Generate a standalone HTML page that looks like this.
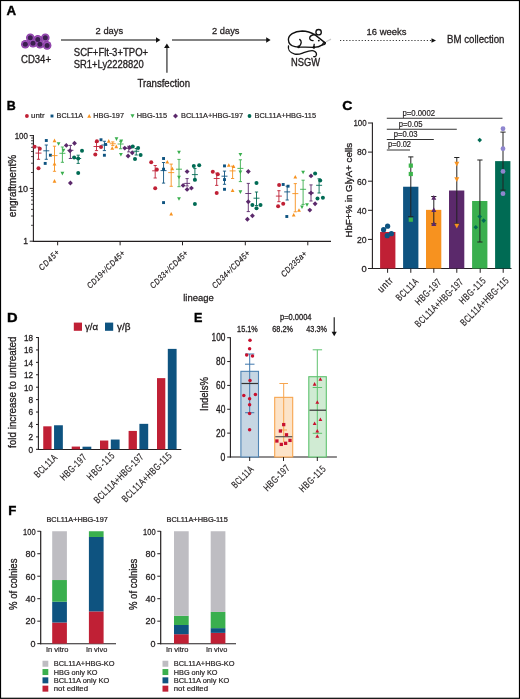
<!DOCTYPE html>
<html><head><meta charset="utf-8"><style>
html,body{margin:0;padding:0;background:#fff;}
#fig{position:relative;width:520px;height:699px;overflow:hidden;background:#fff;}
svg{position:absolute;left:0;top:0;will-change:transform;}
text{font-family:"Liberation Sans", sans-serif;}
</style></head><body><div id="fig">
<svg width="520" height="699" viewBox="0 0 520 699">
<rect x="0" y="0" width="520" height="699" fill="#fff"/>
<text x="6.60" y="14.80" font-size="12" fill="#000" stroke="#000" stroke-width="0.35" font-weight="bold" textLength="9.6" lengthAdjust="spacingAndGlyphs">A</text>
<circle cx="30.30" cy="37.70" r="4.30" fill="#8a3ca4"/>
<circle cx="37.80" cy="39.40" r="4.30" fill="#8a3ca4"/>
<circle cx="45.30" cy="37.70" r="4.30" fill="#8a3ca4"/>
<circle cx="25.30" cy="44.20" r="4.30" fill="#8a3ca4"/>
<circle cx="33.00" cy="43.20" r="4.30" fill="#8a3ca4"/>
<circle cx="39.90" cy="44.20" r="4.30" fill="#8a3ca4"/>
<circle cx="47.10" cy="45.40" r="4.30" fill="#8a3ca4"/>
<circle cx="30.30" cy="37.70" r="3.40" fill="#9c52b9"/>
<circle cx="37.80" cy="39.40" r="3.40" fill="#9c52b9"/>
<circle cx="45.30" cy="37.70" r="3.40" fill="#9c52b9"/>
<circle cx="25.30" cy="44.20" r="3.40" fill="#9c52b9"/>
<circle cx="33.00" cy="43.20" r="3.40" fill="#9c52b9"/>
<circle cx="39.90" cy="44.20" r="3.40" fill="#9c52b9"/>
<circle cx="47.10" cy="45.40" r="3.40" fill="#9c52b9"/>
<circle cx="30.30" cy="37.70" r="2.50" fill="#3b1f4f"/>
<circle cx="37.80" cy="39.40" r="2.50" fill="#3b1f4f"/>
<circle cx="45.30" cy="37.70" r="2.50" fill="#3b1f4f"/>
<circle cx="25.30" cy="44.20" r="2.50" fill="#3b1f4f"/>
<circle cx="33.00" cy="43.20" r="2.50" fill="#3b1f4f"/>
<circle cx="39.90" cy="44.20" r="2.50" fill="#3b1f4f"/>
<circle cx="47.10" cy="45.40" r="2.50" fill="#3b1f4f"/>
<text x="21.00" y="62.50" font-size="10" fill="#231f20" stroke="#231f20" stroke-width="0.32" textLength="30" lengthAdjust="spacingAndGlyphs">CD34+</text>
<line x1="61.00" y1="40.00" x2="157.00" y2="40.00" stroke="#5a5a5a" stroke-width="1.6" />
<polygon points="156.00,37.30 160.40,40.00 156.00,42.70" fill="#111"/>
<text x="95.60" y="33.80" font-size="9.2" fill="#231f20" stroke="#231f20" stroke-width="0.26" textLength="27.5" lengthAdjust="spacingAndGlyphs">2 days</text>
<text x="73.80" y="55.80" font-size="10.4" fill="#231f20" stroke="#231f20" stroke-width="0.32" textLength="74.3" lengthAdjust="spacingAndGlyphs">SCF+Flt-3+TPO+</text>
<text x="73.80" y="67.90" font-size="10.4" fill="#231f20" stroke="#231f20" stroke-width="0.32" textLength="69.9" lengthAdjust="spacingAndGlyphs">SR1+Ly2228820</text>
<line x1="166.90" y1="72.70" x2="166.90" y2="47.00" stroke="#6a6a6a" stroke-width="1.7" />
<polygon points="164.10,47.90 166.90,43.60 169.70,47.90" fill="#111"/>
<text x="137.50" y="87.00" font-size="10" fill="#231f20" stroke="#231f20" stroke-width="0.32" textLength="52.5" lengthAdjust="spacingAndGlyphs">Transfection</text>
<line x1="172.00" y1="40.00" x2="267.00" y2="40.00" stroke="#5a5a5a" stroke-width="1.6" />
<polygon points="266.20,37.30 270.60,40.00 266.20,42.70" fill="#111"/>
<text x="212.00" y="33.80" font-size="9.2" fill="#231f20" stroke="#231f20" stroke-width="0.26" textLength="27.5" lengthAdjust="spacingAndGlyphs">2 days</text>
<g fill="none" stroke="#111" stroke-width="1.35" stroke-linecap="round" stroke-linejoin="round">
<path d="M315.4,35.1 C311,32.5 306,31 302.3,31 C294,31.2 288.3,35 288.4,39.7 C288.5,43.2 291,45.8 295,46.6 C300,47.6 307,46.8 313.7,47.4 C317.5,47.4 320.5,46.2 322.3,44.9"/>
<path d="M315.4,35.1 L325.2,42.9"/>
<path d="M322.3,44.9 C322.8,43.2 324,42.3 325.3,42.6 C325.6,43.8 324.5,45 322.3,44.9"/>
<circle cx="318.6" cy="32.2" r="2.7"/>
<path d="M314.8,34.5 C311.5,34.8 309.3,36.5 309.7,38.4 C310.1,40 311.6,40.7 313.1,40.6"/>
<path d="M299.7,39.4 C301.8,41 302,43.8 298.6,46.9"/>
<path d="M314.2,44.3 L313.7,47.4"/>
<path d="M288.5,46 C287.8,49 289.5,52.6 294.8,54.1 C299,55 301.5,53.3 304.5,52.3 C308,51.1 311,50.3 313.5,50.8 C316.5,51.5 317,54.5 316,55.9 C315.3,56.7 314.5,56.9 313.7,56.7"/>
</g>
<circle cx="318.80" cy="40.60" r="0.95" fill="#111"/>
<circle cx="298.60" cy="46.90" r="1.30" fill="#111"/>
<circle cx="313.90" cy="47.40" r="1.30" fill="#111"/>
<line x1="326.00" y1="41.80" x2="331.00" y2="39.10" stroke="#c8c8c8" stroke-width="1.2" />
<line x1="319.50" y1="48.50" x2="321.00" y2="47.50" stroke="#e0e0e0" stroke-width="0.8" />
<text x="291.00" y="66.00" font-size="10" fill="#231f20" stroke="#231f20" stroke-width="0.32" textLength="29" lengthAdjust="spacingAndGlyphs">NSGW</text>
<line x1="340" y1="40.5" x2="432" y2="40.5" stroke="#222" stroke-width="0.9" stroke-dasharray="1.2 1.9"/>
<polygon points="431.50,38.30 436.00,40.50 431.50,42.70" fill="#111"/>
<text x="366.50" y="35.20" font-size="9.3" fill="#231f20" stroke="#231f20" stroke-width="0.26" textLength="40" lengthAdjust="spacingAndGlyphs">16 weeks</text>
<text x="447.00" y="43.20" font-size="10.8" fill="#231f20" stroke="#231f20" stroke-width="0.32" textLength="57.5" lengthAdjust="spacingAndGlyphs">BM collection</text>
<text x="6.80" y="110.00" font-size="12" fill="#000" stroke="#000" stroke-width="0.35" font-weight="bold" textLength="9.0" lengthAdjust="spacingAndGlyphs">B</text>
<circle cx="26.90" cy="116.00" r="1.90" fill="#c02035"/>
<text x="31.10" y="118.10" font-size="7.6" fill="#231f20" stroke="#231f20" stroke-width="0.2" textLength="13.5" lengthAdjust="spacingAndGlyphs">untr</text>
<rect x="50.55" y="114.55" width="2.90" height="2.90" fill="#0e5380"/>
<text x="56.60" y="118.10" font-size="7.6" fill="#231f20" stroke="#231f20" stroke-width="0.2" textLength="26.5" lengthAdjust="spacingAndGlyphs">BCL11A</text>
<polygon points="87.20,117.72 91.20,117.72 89.20,114.00" fill="#f7921f"/>
<text x="93.30" y="118.10" font-size="7.6" fill="#231f20" stroke="#231f20" stroke-width="0.2" textLength="30.7" lengthAdjust="spacingAndGlyphs">HBG-197</text>
<polygon points="130.50,114.28 134.50,114.28 132.50,118.00" fill="#3aaf4e"/>
<text x="136.80" y="118.10" font-size="7.6" fill="#231f20" stroke="#231f20" stroke-width="0.2" textLength="30.2" lengthAdjust="spacingAndGlyphs">HBG-115</text>
<polygon points="175.50,113.50 178.00,116.00 175.50,118.50 173.00,116.00" fill="#5b296b"/>
<text x="181.00" y="118.10" font-size="7.6" fill="#231f20" stroke="#231f20" stroke-width="0.2" textLength="62" lengthAdjust="spacingAndGlyphs">BCL11A+HBG-197</text>
<circle cx="249.50" cy="116.00" r="1.90" fill="#006b54"/>
<text x="254.50" y="118.10" font-size="7.6" fill="#231f20" stroke="#231f20" stroke-width="0.2" textLength="61.5" lengthAdjust="spacingAndGlyphs">BCL11A+HBG-115</text>
<line x1="33.40" y1="135.10" x2="33.40" y2="241.90" stroke="#231f20" stroke-width="1.1" />
<line x1="32.90" y1="241.40" x2="331.00" y2="241.40" stroke="#231f20" stroke-width="1.1" />
<line x1="29.70" y1="241.20" x2="33.40" y2="241.20" stroke="#231f20" stroke-width="1" />
<line x1="29.70" y1="188.40" x2="33.40" y2="188.40" stroke="#231f20" stroke-width="1" />
<line x1="29.70" y1="135.60" x2="33.40" y2="135.60" stroke="#231f20" stroke-width="1" />
<line x1="31.00" y1="225.31" x2="33.40" y2="225.31" stroke="#231f20" stroke-width="0.8" />
<line x1="31.00" y1="216.01" x2="33.40" y2="216.01" stroke="#231f20" stroke-width="0.8" />
<line x1="31.00" y1="209.41" x2="33.40" y2="209.41" stroke="#231f20" stroke-width="0.8" />
<line x1="31.00" y1="204.29" x2="33.40" y2="204.29" stroke="#231f20" stroke-width="0.8" />
<line x1="31.00" y1="200.11" x2="33.40" y2="200.11" stroke="#231f20" stroke-width="0.8" />
<line x1="31.00" y1="196.58" x2="33.40" y2="196.58" stroke="#231f20" stroke-width="0.8" />
<line x1="31.00" y1="193.52" x2="33.40" y2="193.52" stroke="#231f20" stroke-width="0.8" />
<line x1="31.00" y1="190.82" x2="33.40" y2="190.82" stroke="#231f20" stroke-width="0.8" />
<line x1="31.00" y1="172.51" x2="33.40" y2="172.51" stroke="#231f20" stroke-width="0.8" />
<line x1="31.00" y1="163.21" x2="33.40" y2="163.21" stroke="#231f20" stroke-width="0.8" />
<line x1="31.00" y1="156.61" x2="33.40" y2="156.61" stroke="#231f20" stroke-width="0.8" />
<line x1="31.00" y1="151.49" x2="33.40" y2="151.49" stroke="#231f20" stroke-width="0.8" />
<line x1="31.00" y1="147.31" x2="33.40" y2="147.31" stroke="#231f20" stroke-width="0.8" />
<line x1="31.00" y1="143.78" x2="33.40" y2="143.78" stroke="#231f20" stroke-width="0.8" />
<line x1="31.00" y1="140.72" x2="33.40" y2="140.72" stroke="#231f20" stroke-width="0.8" />
<line x1="31.00" y1="138.02" x2="33.40" y2="138.02" stroke="#231f20" stroke-width="0.8" />
<text x="28.00" y="138.80" font-size="8.6" fill="#231f20" stroke="#231f20" stroke-width="0.26" text-anchor="end" textLength="13.3" lengthAdjust="spacingAndGlyphs">100</text>
<text x="28.00" y="191.60" font-size="8.6" fill="#231f20" stroke="#231f20" stroke-width="0.26" text-anchor="end" textLength="10" lengthAdjust="spacingAndGlyphs">10</text>
<text x="28.00" y="244.40" font-size="8.6" fill="#231f20" stroke="#231f20" stroke-width="0.26" text-anchor="end">1</text>
<text x="15.50" y="186.00" font-size="10" fill="#231f20" stroke="#231f20" stroke-width="0.32" text-anchor="middle" textLength="62.3" lengthAdjust="spacingAndGlyphs" transform="rotate(-90 15.50 186.00)">engraftment%</text>
<line x1="57.65" y1="241.40" x2="57.65" y2="245.30" stroke="#231f20" stroke-width="1" />
<line x1="120.10" y1="241.40" x2="120.10" y2="245.30" stroke="#231f20" stroke-width="1" />
<line x1="182.50" y1="241.40" x2="182.50" y2="245.30" stroke="#231f20" stroke-width="1" />
<line x1="245.30" y1="241.40" x2="245.30" y2="245.30" stroke="#231f20" stroke-width="1" />
<line x1="307.80" y1="241.40" x2="307.80" y2="245.30" stroke="#231f20" stroke-width="1" />
<text x="60.05" y="253.10" font-size="8.4" fill="#231f20" stroke="#231f20" stroke-width="0.2" text-anchor="end" textLength="29.88" lengthAdjust="spacing" font-style="italic" transform="rotate(-45 60.05 253.10) translate(60.05 253.10) scale(0.85 1) translate(-60.05 -253.10)">CD45+</text>
<text x="125.45" y="253.90" font-size="8.4" fill="#231f20" stroke="#231f20" stroke-width="0.2" text-anchor="end" textLength="59.24" lengthAdjust="spacing" font-style="italic" transform="rotate(-45 125.45 253.90) translate(125.45 253.90) scale(0.8389096271168676 1) translate(-125.45 -253.90)">CD19+/CD45+</text>
<text x="188.45" y="253.90" font-size="8.4" fill="#231f20" stroke="#231f20" stroke-width="0.2" text-anchor="end" textLength="59.24" lengthAdjust="spacing" font-style="italic" transform="rotate(-45 188.45 253.90) translate(188.45 253.90) scale(0.8389096271168676 1) translate(-188.45 -253.90)">CD33+/CD45+</text>
<text x="250.45" y="253.90" font-size="8.4" fill="#231f20" stroke="#231f20" stroke-width="0.2" text-anchor="end" textLength="59.24" lengthAdjust="spacing" font-style="italic" transform="rotate(-45 250.45 253.90) translate(250.45 253.90) scale(0.8389096271168676 1) translate(-250.45 -253.90)">CD34+/CD45+</text>
<text x="307.35" y="254.30" font-size="8.4" fill="#231f20" stroke="#231f20" stroke-width="0.2" text-anchor="end" textLength="38.59" lengthAdjust="spacing" font-style="italic" transform="rotate(-45 307.35 254.30) translate(307.35 254.30) scale(0.85 1) translate(-307.35 -254.30)">CD235a+</text>
<text x="183.20" y="300.50" font-size="9" fill="#231f20" stroke="#231f20" stroke-width="0.26" textLength="30.5" lengthAdjust="spacingAndGlyphs">lineage</text>
<circle cx="34.60" cy="146.70" r="2.00" fill="#c02035"/>
<circle cx="39.80" cy="148.70" r="2.00" fill="#c02035"/>
<circle cx="38.50" cy="168.30" r="2.00" fill="#c02035"/>
<line x1="38.50" y1="147.10" x2="38.50" y2="159.30" stroke="#c02035" stroke-width="0.9" />
<line x1="36.90" y1="147.10" x2="40.10" y2="147.10" stroke="#c02035" stroke-width="0.9" />
<line x1="36.90" y1="159.30" x2="40.10" y2="159.30" stroke="#c02035" stroke-width="0.9" />
<line x1="35.50" y1="153.10" x2="41.50" y2="153.10" stroke="#c02035" stroke-width="0.9" />
<rect x="44.85" y="139.05" width="2.90" height="2.90" fill="#0e5380"/>
<rect x="48.95" y="153.75" width="2.90" height="2.90" fill="#0e5380"/>
<rect x="43.75" y="161.95" width="2.90" height="2.90" fill="#0e5380"/>
<line x1="46.30" y1="145.00" x2="46.30" y2="159.30" stroke="#0e5380" stroke-width="0.9" />
<line x1="44.70" y1="145.00" x2="47.90" y2="145.00" stroke="#0e5380" stroke-width="0.9" />
<line x1="44.70" y1="159.30" x2="47.90" y2="159.30" stroke="#0e5380" stroke-width="0.9" />
<line x1="43.30" y1="150.80" x2="49.30" y2="150.80" stroke="#0e5380" stroke-width="0.9" />
<polygon points="52.60,142.13 56.40,142.13 54.50,138.60" fill="#f7921f"/>
<polygon points="52.60,165.53 56.40,165.53 54.50,162.00" fill="#f7921f"/>
<polygon points="52.60,182.63 56.40,182.63 54.50,179.10" fill="#f7921f"/>
<line x1="54.50" y1="146.20" x2="54.50" y2="171.30" stroke="#f7921f" stroke-width="0.9" />
<line x1="52.90" y1="146.20" x2="56.10" y2="146.20" stroke="#f7921f" stroke-width="0.9" />
<line x1="52.90" y1="171.30" x2="56.10" y2="171.30" stroke="#f7921f" stroke-width="0.9" />
<line x1="51.50" y1="155.60" x2="57.50" y2="155.60" stroke="#f7921f" stroke-width="0.9" />
<polygon points="56.70,142.17 60.50,142.17 58.60,145.70" fill="#3aaf4e"/>
<polygon points="61.60,148.67 65.40,148.67 63.50,152.20" fill="#3aaf4e"/>
<polygon points="60.50,171.87 64.30,171.87 62.40,175.40" fill="#3aaf4e"/>
<line x1="62.40" y1="147.00" x2="62.40" y2="162.30" stroke="#3aaf4e" stroke-width="0.9" />
<line x1="60.80" y1="147.00" x2="64.00" y2="147.00" stroke="#3aaf4e" stroke-width="0.9" />
<line x1="60.80" y1="162.30" x2="64.00" y2="162.30" stroke="#3aaf4e" stroke-width="0.9" />
<line x1="59.40" y1="153.30" x2="65.40" y2="153.30" stroke="#3aaf4e" stroke-width="0.9" />
<polygon points="66.30,142.95 68.75,145.40 66.30,147.85 63.85,145.40" fill="#5b296b"/>
<polygon points="74.50,140.85 76.95,143.30 74.50,145.75 72.05,143.30" fill="#5b296b"/>
<polygon points="70.00,148.25 72.45,150.70 70.00,153.15 67.55,150.70" fill="#5b296b"/>
<polygon points="70.40,180.55 72.85,183.00 70.40,185.45 67.95,183.00" fill="#5b296b"/>
<line x1="70.40" y1="145.40" x2="70.40" y2="158.50" stroke="#5b296b" stroke-width="0.9" />
<line x1="68.80" y1="145.40" x2="72.00" y2="145.40" stroke="#5b296b" stroke-width="0.9" />
<line x1="68.80" y1="158.50" x2="72.00" y2="158.50" stroke="#5b296b" stroke-width="0.9" />
<line x1="67.40" y1="150.30" x2="73.40" y2="150.30" stroke="#5b296b" stroke-width="0.9" />
<circle cx="74.10" cy="157.40" r="2.00" fill="#006b54"/>
<circle cx="78.20" cy="158.50" r="2.00" fill="#006b54"/>
<circle cx="82.00" cy="150.80" r="2.00" fill="#006b54"/>
<circle cx="78.20" cy="172.90" r="2.00" fill="#006b54"/>
<line x1="78.20" y1="155.20" x2="78.20" y2="163.40" stroke="#006b54" stroke-width="0.9" />
<line x1="76.60" y1="155.20" x2="79.80" y2="155.20" stroke="#006b54" stroke-width="0.9" />
<line x1="76.60" y1="163.40" x2="79.80" y2="163.40" stroke="#006b54" stroke-width="0.9" />
<line x1="75.20" y1="158.50" x2="81.20" y2="158.50" stroke="#006b54" stroke-width="0.9" />
<circle cx="96.90" cy="141.30" r="2.00" fill="#c02035"/>
<circle cx="101.00" cy="146.90" r="2.00" fill="#c02035"/>
<circle cx="95.30" cy="154.40" r="2.00" fill="#c02035"/>
<line x1="96.50" y1="142.50" x2="96.50" y2="150.60" stroke="#c02035" stroke-width="0.9" />
<line x1="94.90" y1="142.50" x2="98.10" y2="142.50" stroke="#c02035" stroke-width="0.9" />
<line x1="94.90" y1="150.60" x2="98.10" y2="150.60" stroke="#c02035" stroke-width="0.9" />
<line x1="93.50" y1="146.50" x2="99.50" y2="146.50" stroke="#c02035" stroke-width="0.9" />
<rect x="99.55" y="138.30" width="2.90" height="2.90" fill="#0e5380"/>
<rect x="104.15" y="142.95" width="2.90" height="2.90" fill="#0e5380"/>
<rect x="102.95" y="153.80" width="2.90" height="2.90" fill="#0e5380"/>
<line x1="104.40" y1="141.25" x2="104.40" y2="150.60" stroke="#0e5380" stroke-width="0.9" />
<line x1="102.80" y1="141.25" x2="106.00" y2="141.25" stroke="#0e5380" stroke-width="0.9" />
<line x1="102.80" y1="150.60" x2="106.00" y2="150.60" stroke="#0e5380" stroke-width="0.9" />
<line x1="101.40" y1="145.00" x2="107.40" y2="145.00" stroke="#0e5380" stroke-width="0.9" />
<polygon points="106.85,142.63 110.65,142.63 108.75,139.10" fill="#f7921f"/>
<polygon points="110.35,149.73 114.15,149.73 112.25,146.20" fill="#f7921f"/>
<polygon points="114.35,148.13 118.15,148.13 116.25,144.60" fill="#f7921f"/>
<line x1="112.75" y1="141.90" x2="112.75" y2="145.60" stroke="#f7921f" stroke-width="0.9" />
<line x1="111.15" y1="141.90" x2="114.35" y2="141.90" stroke="#f7921f" stroke-width="0.9" />
<line x1="111.15" y1="145.60" x2="114.35" y2="145.60" stroke="#f7921f" stroke-width="0.9" />
<line x1="109.75" y1="143.75" x2="115.75" y2="143.75" stroke="#f7921f" stroke-width="0.9" />
<polygon points="114.60,137.37 118.40,137.37 116.50,140.90" fill="#3aaf4e"/>
<polygon points="119.35,139.62 123.15,139.62 121.25,143.15" fill="#3aaf4e"/>
<polygon points="119.00,152.97 122.80,152.97 120.90,156.50" fill="#3aaf4e"/>
<line x1="120.60" y1="141.25" x2="120.60" y2="148.75" stroke="#3aaf4e" stroke-width="0.9" />
<line x1="119.00" y1="141.25" x2="122.20" y2="141.25" stroke="#3aaf4e" stroke-width="0.9" />
<line x1="119.00" y1="148.75" x2="122.20" y2="148.75" stroke="#3aaf4e" stroke-width="0.9" />
<line x1="117.60" y1="144.00" x2="123.60" y2="144.00" stroke="#3aaf4e" stroke-width="0.9" />
<polygon points="124.75,145.65 127.20,148.10 124.75,150.55 122.30,148.10" fill="#5b296b"/>
<polygon points="129.75,145.05 132.20,147.50 129.75,149.95 127.30,147.50" fill="#5b296b"/>
<polygon points="132.25,150.30 134.70,152.75 132.25,155.20 129.80,152.75" fill="#5b296b"/>
<polygon points="128.10,153.55 130.55,156.00 128.10,158.45 125.65,156.00" fill="#5b296b"/>
<line x1="128.75" y1="146.25" x2="128.75" y2="151.90" stroke="#5b296b" stroke-width="0.9" />
<line x1="127.15" y1="146.25" x2="130.35" y2="146.25" stroke="#5b296b" stroke-width="0.9" />
<line x1="127.15" y1="151.90" x2="130.35" y2="151.90" stroke="#5b296b" stroke-width="0.9" />
<line x1="125.75" y1="148.40" x2="131.75" y2="148.40" stroke="#5b296b" stroke-width="0.9" />
<circle cx="132.75" cy="146.50" r="2.00" fill="#006b54"/>
<circle cx="138.10" cy="148.10" r="2.00" fill="#006b54"/>
<circle cx="140.60" cy="155.00" r="2.00" fill="#006b54"/>
<circle cx="135.00" cy="159.00" r="2.00" fill="#006b54"/>
<line x1="136.25" y1="148.50" x2="136.25" y2="155.00" stroke="#006b54" stroke-width="0.9" />
<line x1="134.65" y1="148.50" x2="137.85" y2="148.50" stroke="#006b54" stroke-width="0.9" />
<line x1="134.65" y1="155.00" x2="137.85" y2="155.00" stroke="#006b54" stroke-width="0.9" />
<line x1="133.25" y1="151.25" x2="139.25" y2="151.25" stroke="#006b54" stroke-width="0.9" />
<circle cx="151.20" cy="162.20" r="2.00" fill="#c02035"/>
<circle cx="156.80" cy="169.60" r="2.00" fill="#c02035"/>
<circle cx="155.20" cy="188.30" r="2.00" fill="#c02035"/>
<line x1="155.20" y1="165.50" x2="155.20" y2="178.00" stroke="#c02035" stroke-width="0.9" />
<line x1="153.60" y1="165.50" x2="156.80" y2="165.50" stroke="#c02035" stroke-width="0.9" />
<line x1="153.60" y1="178.00" x2="156.80" y2="178.00" stroke="#c02035" stroke-width="0.9" />
<line x1="152.20" y1="170.80" x2="158.20" y2="170.80" stroke="#c02035" stroke-width="0.9" />
<rect x="162.10" y="157.05" width="2.90" height="2.90" fill="#0e5380"/>
<rect x="162.10" y="167.75" width="2.90" height="2.90" fill="#0e5380"/>
<rect x="162.10" y="201.15" width="2.90" height="2.90" fill="#0e5380"/>
<line x1="163.55" y1="162.50" x2="163.55" y2="183.10" stroke="#0e5380" stroke-width="0.9" />
<line x1="161.95" y1="162.50" x2="165.15" y2="162.50" stroke="#0e5380" stroke-width="0.9" />
<line x1="161.95" y1="183.10" x2="165.15" y2="183.10" stroke="#0e5380" stroke-width="0.9" />
<line x1="160.55" y1="170.60" x2="166.55" y2="170.60" stroke="#0e5380" stroke-width="0.9" />
<polygon points="165.40,163.43 169.20,163.43 167.30,159.90" fill="#f7921f"/>
<polygon points="170.40,170.18 174.20,170.18 172.30,166.65" fill="#f7921f"/>
<polygon points="169.30,215.53 173.10,215.53 171.20,212.00" fill="#f7921f"/>
<line x1="171.20" y1="164.10" x2="171.20" y2="186.30" stroke="#f7921f" stroke-width="0.9" />
<line x1="169.60" y1="164.10" x2="172.80" y2="164.10" stroke="#f7921f" stroke-width="0.9" />
<line x1="169.60" y1="186.30" x2="172.80" y2="186.30" stroke="#f7921f" stroke-width="0.9" />
<line x1="168.20" y1="172.60" x2="174.20" y2="172.60" stroke="#f7921f" stroke-width="0.9" />
<polygon points="177.10,150.77 180.90,150.77 179.00,154.30" fill="#3aaf4e"/>
<polygon points="177.10,175.67 180.90,175.67 179.00,179.20" fill="#3aaf4e"/>
<polygon points="177.10,197.17 180.90,197.17 179.00,200.70" fill="#3aaf4e"/>
<line x1="179.00" y1="159.40" x2="179.00" y2="186.70" stroke="#3aaf4e" stroke-width="0.9" />
<line x1="177.40" y1="159.40" x2="180.60" y2="159.40" stroke="#3aaf4e" stroke-width="0.9" />
<line x1="177.40" y1="186.70" x2="180.60" y2="186.70" stroke="#3aaf4e" stroke-width="0.9" />
<line x1="176.00" y1="169.20" x2="182.00" y2="169.20" stroke="#3aaf4e" stroke-width="0.9" />
<polygon points="187.10,169.15 189.55,171.60 187.10,174.05 184.65,171.60" fill="#5b296b"/>
<polygon points="183.10,182.95 185.55,185.40 183.10,187.85 180.65,185.40" fill="#5b296b"/>
<polygon points="187.10,186.95 189.55,189.40 187.10,191.85 184.65,189.40" fill="#5b296b"/>
<polygon points="191.40,185.65 193.85,188.10 191.40,190.55 188.95,188.10" fill="#5b296b"/>
<line x1="187.10" y1="178.60" x2="187.10" y2="186.00" stroke="#5b296b" stroke-width="0.9" />
<line x1="185.50" y1="178.60" x2="188.70" y2="178.60" stroke="#5b296b" stroke-width="0.9" />
<line x1="185.50" y1="186.00" x2="188.70" y2="186.00" stroke="#5b296b" stroke-width="0.9" />
<line x1="184.10" y1="183.40" x2="190.10" y2="183.40" stroke="#5b296b" stroke-width="0.9" />
<circle cx="193.80" cy="165.90" r="2.00" fill="#006b54"/>
<circle cx="199.20" cy="165.20" r="2.00" fill="#006b54"/>
<circle cx="194.90" cy="179.70" r="2.00" fill="#006b54"/>
<circle cx="194.90" cy="204.00" r="2.00" fill="#006b54"/>
<line x1="194.90" y1="168.55" x2="194.90" y2="180.70" stroke="#006b54" stroke-width="0.9" />
<line x1="193.30" y1="168.55" x2="196.50" y2="168.55" stroke="#006b54" stroke-width="0.9" />
<line x1="193.30" y1="180.70" x2="196.50" y2="180.70" stroke="#006b54" stroke-width="0.9" />
<line x1="191.90" y1="174.60" x2="197.90" y2="174.60" stroke="#006b54" stroke-width="0.9" />
<circle cx="212.80" cy="171.80" r="2.00" fill="#c02035"/>
<circle cx="217.80" cy="174.20" r="2.00" fill="#c02035"/>
<circle cx="216.70" cy="193.10" r="2.00" fill="#c02035"/>
<line x1="216.70" y1="173.10" x2="216.70" y2="185.40" stroke="#c02035" stroke-width="0.9" />
<line x1="215.10" y1="173.10" x2="218.30" y2="173.10" stroke="#c02035" stroke-width="0.9" />
<line x1="215.10" y1="185.40" x2="218.30" y2="185.40" stroke="#c02035" stroke-width="0.9" />
<line x1="213.70" y1="178.50" x2="219.70" y2="178.50" stroke="#c02035" stroke-width="0.9" />
<rect x="223.05" y="164.45" width="2.90" height="2.90" fill="#0e5380"/>
<rect x="223.05" y="178.15" width="2.90" height="2.90" fill="#0e5380"/>
<rect x="223.05" y="187.85" width="2.90" height="2.90" fill="#0e5380"/>
<line x1="224.50" y1="171.10" x2="224.50" y2="184.30" stroke="#0e5380" stroke-width="0.9" />
<line x1="222.90" y1="171.10" x2="226.10" y2="171.10" stroke="#0e5380" stroke-width="0.9" />
<line x1="222.90" y1="184.30" x2="226.10" y2="184.30" stroke="#0e5380" stroke-width="0.9" />
<line x1="221.50" y1="176.20" x2="227.50" y2="176.20" stroke="#0e5380" stroke-width="0.9" />
<polygon points="226.90,166.73 230.70,166.73 228.80,163.20" fill="#f7921f"/>
<polygon points="231.60,168.03 235.40,168.03 233.50,164.50" fill="#f7921f"/>
<polygon points="230.70,192.03 234.50,192.03 232.60,188.50" fill="#f7921f"/>
<line x1="232.60" y1="166.20" x2="232.60" y2="178.50" stroke="#f7921f" stroke-width="0.9" />
<line x1="231.00" y1="166.20" x2="234.20" y2="166.20" stroke="#f7921f" stroke-width="0.9" />
<line x1="231.00" y1="178.50" x2="234.20" y2="178.50" stroke="#f7921f" stroke-width="0.9" />
<line x1="229.60" y1="170.90" x2="235.60" y2="170.90" stroke="#f7921f" stroke-width="0.9" />
<polygon points="238.50,153.07 242.30,153.07 240.40,156.60" fill="#3aaf4e"/>
<polygon points="238.50,170.57 242.30,170.57 240.40,174.10" fill="#3aaf4e"/>
<polygon points="238.50,190.37 242.30,190.37 240.40,193.90" fill="#3aaf4e"/>
<line x1="240.40" y1="159.80" x2="240.40" y2="181.60" stroke="#3aaf4e" stroke-width="0.9" />
<line x1="238.80" y1="159.80" x2="242.00" y2="159.80" stroke="#3aaf4e" stroke-width="0.9" />
<line x1="238.80" y1="181.60" x2="242.00" y2="181.60" stroke="#3aaf4e" stroke-width="0.9" />
<line x1="237.40" y1="168.40" x2="243.40" y2="168.40" stroke="#3aaf4e" stroke-width="0.9" />
<polygon points="248.30,169.05 250.75,171.50 248.30,173.95 245.85,171.50" fill="#5b296b"/>
<polygon points="248.30,199.35 250.75,201.80 248.30,204.25 245.85,201.80" fill="#5b296b"/>
<polygon points="252.40,213.25 254.85,215.70 252.40,218.15 249.95,215.70" fill="#5b296b"/>
<polygon points="247.40,216.85 249.85,219.30 247.40,221.75 244.95,219.30" fill="#5b296b"/>
<line x1="248.30" y1="183.40" x2="248.30" y2="211.60" stroke="#5b296b" stroke-width="0.9" />
<line x1="246.70" y1="183.40" x2="249.90" y2="183.40" stroke="#5b296b" stroke-width="0.9" />
<line x1="246.70" y1="211.60" x2="249.90" y2="211.60" stroke="#5b296b" stroke-width="0.9" />
<line x1="245.30" y1="193.50" x2="251.30" y2="193.50" stroke="#5b296b" stroke-width="0.9" />
<circle cx="256.50" cy="183.00" r="2.00" fill="#006b54"/>
<circle cx="252.40" cy="204.90" r="2.00" fill="#006b54"/>
<circle cx="260.50" cy="204.90" r="2.00" fill="#006b54"/>
<circle cx="256.50" cy="208.30" r="2.00" fill="#006b54"/>
<line x1="256.50" y1="192.00" x2="256.50" y2="205.50" stroke="#006b54" stroke-width="0.9" />
<line x1="254.90" y1="192.00" x2="258.10" y2="192.00" stroke="#006b54" stroke-width="0.9" />
<line x1="254.90" y1="205.50" x2="258.10" y2="205.50" stroke="#006b54" stroke-width="0.9" />
<line x1="253.50" y1="198.20" x2="259.50" y2="198.20" stroke="#006b54" stroke-width="0.9" />
<circle cx="279.10" cy="184.90" r="2.00" fill="#c02035"/>
<circle cx="278.10" cy="206.20" r="2.00" fill="#c02035"/>
<circle cx="283.20" cy="203.70" r="2.00" fill="#c02035"/>
<line x1="278.90" y1="190.70" x2="278.90" y2="201.70" stroke="#c02035" stroke-width="0.9" />
<line x1="277.30" y1="190.70" x2="280.50" y2="190.70" stroke="#c02035" stroke-width="0.9" />
<line x1="277.30" y1="201.70" x2="280.50" y2="201.70" stroke="#c02035" stroke-width="0.9" />
<line x1="275.90" y1="196.10" x2="281.90" y2="196.10" stroke="#c02035" stroke-width="0.9" />
<rect x="281.75" y="183.05" width="2.90" height="2.90" fill="#0e5380"/>
<rect x="286.65" y="184.75" width="2.90" height="2.90" fill="#0e5380"/>
<rect x="285.35" y="215.05" width="2.90" height="2.90" fill="#0e5380"/>
<line x1="287.20" y1="186.20" x2="287.20" y2="200.00" stroke="#0e5380" stroke-width="0.9" />
<line x1="285.60" y1="186.20" x2="288.80" y2="186.20" stroke="#0e5380" stroke-width="0.9" />
<line x1="285.60" y1="200.00" x2="288.80" y2="200.00" stroke="#0e5380" stroke-width="0.9" />
<line x1="284.20" y1="191.90" x2="290.20" y2="191.90" stroke="#0e5380" stroke-width="0.9" />
<polygon points="293.40,178.43 297.20,178.43 295.30,174.90" fill="#f7921f"/>
<polygon points="297.10,211.83 300.90,211.83 299.00,208.30" fill="#f7921f"/>
<polygon points="291.80,216.53 295.60,216.53 293.70,213.00" fill="#f7921f"/>
<line x1="295.30" y1="183.60" x2="295.30" y2="211.80" stroke="#f7921f" stroke-width="0.9" />
<line x1="293.70" y1="183.60" x2="296.90" y2="183.60" stroke="#f7921f" stroke-width="0.9" />
<line x1="293.70" y1="211.80" x2="296.90" y2="211.80" stroke="#f7921f" stroke-width="0.9" />
<line x1="292.30" y1="193.60" x2="298.30" y2="193.60" stroke="#f7921f" stroke-width="0.9" />
<polygon points="301.20,170.77 305.00,170.77 303.10,174.30" fill="#3aaf4e"/>
<polygon points="300.10,205.47 303.90,205.47 302.00,209.00" fill="#3aaf4e"/>
<polygon points="305.10,203.17 308.90,203.17 307.00,206.70" fill="#3aaf4e"/>
<line x1="303.10" y1="180.20" x2="303.10" y2="204.40" stroke="#3aaf4e" stroke-width="0.9" />
<line x1="301.50" y1="180.20" x2="304.70" y2="180.20" stroke="#3aaf4e" stroke-width="0.9" />
<line x1="301.50" y1="204.40" x2="304.70" y2="204.40" stroke="#3aaf4e" stroke-width="0.9" />
<line x1="300.10" y1="189.30" x2="306.10" y2="189.30" stroke="#3aaf4e" stroke-width="0.9" />
<polygon points="311.00,173.45 313.45,175.90 311.00,178.35 308.55,175.90" fill="#5b296b"/>
<polygon points="311.00,190.55 313.45,193.00 311.00,195.45 308.55,193.00" fill="#5b296b"/>
<polygon points="315.10,201.25 317.55,203.70 315.10,206.15 312.65,203.70" fill="#5b296b"/>
<polygon points="309.80,207.65 312.25,210.10 309.80,212.55 307.35,210.10" fill="#5b296b"/>
<line x1="311.00" y1="184.90" x2="311.00" y2="201.00" stroke="#5b296b" stroke-width="0.9" />
<line x1="309.40" y1="184.90" x2="312.60" y2="184.90" stroke="#5b296b" stroke-width="0.9" />
<line x1="309.40" y1="201.00" x2="312.60" y2="201.00" stroke="#5b296b" stroke-width="0.9" />
<line x1="308.00" y1="193.00" x2="314.00" y2="193.00" stroke="#5b296b" stroke-width="0.9" />
<circle cx="315.10" cy="173.50" r="2.00" fill="#006b54"/>
<circle cx="320.20" cy="180.50" r="2.00" fill="#006b54"/>
<circle cx="317.50" cy="198.40" r="2.00" fill="#006b54"/>
<circle cx="322.90" cy="197.70" r="2.00" fill="#006b54"/>
<line x1="319.10" y1="178.80" x2="319.10" y2="193.00" stroke="#006b54" stroke-width="0.9" />
<line x1="317.50" y1="178.80" x2="320.70" y2="178.80" stroke="#006b54" stroke-width="0.9" />
<line x1="317.50" y1="193.00" x2="320.70" y2="193.00" stroke="#006b54" stroke-width="0.9" />
<line x1="316.10" y1="185.30" x2="322.10" y2="185.30" stroke="#006b54" stroke-width="0.9" />
<text x="342.30" y="110.00" font-size="12" fill="#000" stroke="#000" stroke-width="0.35" font-weight="bold" textLength="10.2" lengthAdjust="spacingAndGlyphs">C</text>
<line x1="372.40" y1="122.50" x2="372.40" y2="269.00" stroke="#231f20" stroke-width="1.1" />
<line x1="371.90" y1="268.50" x2="511.50" y2="268.50" stroke="#231f20" stroke-width="1.1" />
<line x1="368.00" y1="268.50" x2="372.40" y2="268.50" stroke="#231f20" stroke-width="1" />
<text x="366.60" y="271.80" font-size="9.4" fill="#231f20" stroke="#231f20" stroke-width="0.26" text-anchor="end">0</text>
<line x1="368.00" y1="239.40" x2="372.40" y2="239.40" stroke="#231f20" stroke-width="1" />
<text x="366.60" y="242.70" font-size="9.4" fill="#231f20" stroke="#231f20" stroke-width="0.26" text-anchor="end" textLength="9.6" lengthAdjust="spacingAndGlyphs">20</text>
<line x1="368.00" y1="210.30" x2="372.40" y2="210.30" stroke="#231f20" stroke-width="1" />
<text x="366.60" y="213.60" font-size="9.4" fill="#231f20" stroke="#231f20" stroke-width="0.26" text-anchor="end" textLength="9.6" lengthAdjust="spacingAndGlyphs">40</text>
<line x1="368.00" y1="181.20" x2="372.40" y2="181.20" stroke="#231f20" stroke-width="1" />
<text x="366.60" y="184.50" font-size="9.4" fill="#231f20" stroke="#231f20" stroke-width="0.26" text-anchor="end" textLength="9.6" lengthAdjust="spacingAndGlyphs">60</text>
<line x1="368.00" y1="152.10" x2="372.40" y2="152.10" stroke="#231f20" stroke-width="1" />
<text x="366.60" y="155.40" font-size="9.4" fill="#231f20" stroke="#231f20" stroke-width="0.26" text-anchor="end" textLength="9.6" lengthAdjust="spacingAndGlyphs">80</text>
<line x1="368.00" y1="123.00" x2="372.40" y2="123.00" stroke="#231f20" stroke-width="1" />
<text x="366.60" y="126.30" font-size="9.4" fill="#231f20" stroke="#231f20" stroke-width="0.26" text-anchor="end" textLength="13.2" lengthAdjust="spacingAndGlyphs">100</text>
<text x="351.80" y="190.30" font-size="9.6" fill="#231f20" stroke="#231f20" stroke-width="0.32" text-anchor="middle" textLength="94.6" lengthAdjust="spacingAndGlyphs" transform="rotate(-90 351.80 190.30)">HbF+% in GlyA+ cells</text>
<rect x="380.10" y="231.98" width="15.30" height="36.52" fill="#c02035"/>
<rect x="403.10" y="186.73" width="15.30" height="81.77" fill="#0e5380"/>
<rect x="426.00" y="209.86" width="15.30" height="58.64" fill="#f7921f"/>
<rect x="449.00" y="190.51" width="15.30" height="77.99" fill="#5b296b"/>
<rect x="472.10" y="200.99" width="15.30" height="67.51" fill="#3aaf4e"/>
<rect x="495.10" y="161.12" width="15.30" height="107.38" fill="#006b54"/>
<line x1="410.80" y1="156.90" x2="410.80" y2="216.70" stroke="#222" stroke-width="1" />
<line x1="408.20" y1="156.90" x2="413.40" y2="156.90" stroke="#222" stroke-width="1" />
<line x1="408.20" y1="216.70" x2="413.40" y2="216.70" stroke="#222" stroke-width="1" />
<line x1="433.80" y1="196.50" x2="433.80" y2="223.80" stroke="#222" stroke-width="1" />
<line x1="431.20" y1="196.50" x2="436.40" y2="196.50" stroke="#222" stroke-width="1" />
<line x1="431.20" y1="223.80" x2="436.40" y2="223.80" stroke="#222" stroke-width="1" />
<line x1="456.80" y1="157.50" x2="456.80" y2="223.80" stroke="#222" stroke-width="1" />
<line x1="454.20" y1="157.50" x2="459.40" y2="157.50" stroke="#222" stroke-width="1" />
<line x1="454.20" y1="223.80" x2="459.40" y2="223.80" stroke="#222" stroke-width="1" />
<line x1="479.90" y1="160.00" x2="479.90" y2="242.00" stroke="#222" stroke-width="1" />
<line x1="477.30" y1="160.00" x2="482.50" y2="160.00" stroke="#222" stroke-width="1" />
<line x1="477.30" y1="242.00" x2="482.50" y2="242.00" stroke="#222" stroke-width="1" />
<line x1="503.00" y1="132.10" x2="503.00" y2="190.10" stroke="#222" stroke-width="1" />
<line x1="500.40" y1="132.10" x2="505.60" y2="132.10" stroke="#222" stroke-width="1" />
<line x1="500.40" y1="190.10" x2="505.60" y2="190.10" stroke="#222" stroke-width="1" />
<circle cx="383.60" cy="229.70" r="2.60" fill="#0e5380"/>
<circle cx="387.60" cy="226.20" r="2.60" fill="#0e5380"/>
<circle cx="387.20" cy="235.70" r="2.60" fill="#0e5380"/>
<circle cx="391.40" cy="233.70" r="2.60" fill="#0e5380"/>
<rect x="408.70" y="163.50" width="4.20" height="4.20" fill="#3cb44b"/>
<rect x="408.70" y="171.90" width="4.20" height="4.20" fill="#3cb44b"/>
<rect x="408.70" y="217.60" width="4.20" height="4.20" fill="#3cb44b"/>
<polygon points="431.30,199.75 436.30,199.75 433.80,195.10" fill="#5b296b"/>
<polygon points="431.30,211.95 436.30,211.95 433.80,207.30" fill="#5b296b"/>
<polygon points="431.30,225.95 436.30,225.95 433.80,221.30" fill="#5b296b"/>
<polygon points="454.30,161.75 459.30,161.75 456.80,166.40" fill="#f7921f"/>
<polygon points="454.30,177.25 459.30,177.25 456.80,181.90" fill="#f7921f"/>
<polygon points="454.30,223.75 459.30,223.75 456.80,228.40" fill="#f7921f"/>
<polygon points="479.70,137.80 482.00,140.10 479.70,142.40 477.40,140.10" fill="#006b54"/>
<polygon points="479.70,214.20 482.00,216.50 479.70,218.80 477.40,216.50" fill="#006b54"/>
<polygon points="483.70,218.30 486.00,220.60 483.70,222.90 481.40,220.60" fill="#006b54"/>
<polygon points="475.80,224.90 478.10,227.20 475.80,229.50 473.50,227.20" fill="#006b54"/>
<circle cx="503.00" cy="128.75" r="2.40" fill="#8f86cf"/>
<circle cx="503.00" cy="148.70" r="2.40" fill="#8f86cf"/>
<circle cx="503.00" cy="171.40" r="2.40" fill="#8f86cf"/>
<circle cx="503.00" cy="193.70" r="2.40" fill="#8f86cf"/>
<line x1="387.60" y1="268.50" x2="387.60" y2="272.80" stroke="#231f20" stroke-width="1" />
<line x1="410.80" y1="268.50" x2="410.80" y2="272.80" stroke="#231f20" stroke-width="1" />
<line x1="433.80" y1="268.50" x2="433.80" y2="272.80" stroke="#231f20" stroke-width="1" />
<line x1="456.80" y1="268.50" x2="456.80" y2="272.80" stroke="#231f20" stroke-width="1" />
<line x1="480.20" y1="268.50" x2="480.20" y2="272.80" stroke="#231f20" stroke-width="1" />
<line x1="503.20" y1="268.50" x2="503.20" y2="272.80" stroke="#231f20" stroke-width="1" />
<text x="393.40" y="281.20" font-size="10" fill="#231f20" stroke="#231f20" stroke-width="0.16" text-anchor="end" textLength="20.27" lengthAdjust="spacing" transform="rotate(-45 393.40 281.20) translate(393.40 281.20) scale(0.8336446564262527 1) translate(-393.40 -281.20)">untr</text>
<text x="419.10" y="282.30" font-size="10" fill="#231f20" stroke="#231f20" stroke-width="0.16" text-anchor="end" textLength="39.25" lengthAdjust="spacing" transform="rotate(-45 419.10 282.30) translate(419.10 282.30) scale(0.6929610019389882 1) translate(-419.10 -282.30)">BCL11A</text>
<text x="441.90" y="282.80" font-size="10" fill="#231f20" stroke="#231f20" stroke-width="0.16" text-anchor="end" textLength="45.14" lengthAdjust="spacing" transform="rotate(-45 441.90 282.80) translate(441.90 282.80) scale(0.72 1) translate(-441.90 -282.80)">HBG-197</text>
<text x="463.80" y="282.80" font-size="10" fill="#231f20" stroke="#231f20" stroke-width="0.16" text-anchor="end" textLength="90.35" lengthAdjust="spacing" transform="rotate(-45 463.80 282.80) translate(463.80 282.80) scale(0.7039006294336957 1) translate(-463.80 -282.80)">BCL11A+HBG-197</text>
<text x="486.30" y="281.50" font-size="10" fill="#231f20" stroke="#231f20" stroke-width="0.16" text-anchor="end" textLength="45.83" lengthAdjust="spacing" transform="rotate(-45 486.30 281.50) translate(486.30 281.50) scale(0.72 1) translate(-486.30 -281.50)">HBG-115</text>
<text x="509.30" y="281.50" font-size="10" fill="#231f20" stroke="#231f20" stroke-width="0.16" text-anchor="end" textLength="89.56" lengthAdjust="spacing" transform="rotate(-45 509.30 281.50) translate(509.30 281.50) scale(0.7101732531634884 1) translate(-509.30 -281.50)">BCL11A+HBG-115</text>
<line x1="386.80" y1="118.25" x2="502.50" y2="118.25" stroke="#333" stroke-width="1" />
<text x="402.50" y="115.65" font-size="8.4" fill="#231f20" stroke="#231f20" stroke-width="0.2" textLength="32.5" lengthAdjust="spacingAndGlyphs">p=0.0002</text>
<line x1="386.80" y1="129.25" x2="456.80" y2="129.25" stroke="#333" stroke-width="1" />
<text x="398.80" y="126.65" font-size="8.4" fill="#231f20" stroke="#231f20" stroke-width="0.2" textLength="23.7" lengthAdjust="spacingAndGlyphs">p=0.05</text>
<line x1="386.80" y1="139.50" x2="433.80" y2="139.50" stroke="#333" stroke-width="1" />
<text x="393.80" y="136.90" font-size="8.4" fill="#231f20" stroke="#231f20" stroke-width="0.2" textLength="23.7" lengthAdjust="spacingAndGlyphs">p=0.03</text>
<line x1="386.80" y1="150.00" x2="410.00" y2="150.00" stroke="#333" stroke-width="1" />
<text x="388.00" y="147.40" font-size="8.4" fill="#231f20" stroke="#231f20" stroke-width="0.2" textLength="23" lengthAdjust="spacingAndGlyphs">p=0.02</text>
<text x="6.90" y="321.90" font-size="12" fill="#000" stroke="#000" stroke-width="0.35" font-weight="bold" textLength="10.6" lengthAdjust="spacingAndGlyphs">D</text>
<rect x="73.80" y="322.60" width="8.20" height="8.20" fill="#c02035"/>
<text x="85.00" y="330.00" font-size="9.5" fill="#231f20" stroke="#231f20" stroke-width="0.32" textLength="13" lengthAdjust="spacingAndGlyphs">γ/α</text>
<rect x="105.00" y="322.60" width="8.20" height="8.20" fill="#0e5380"/>
<text x="117.00" y="330.00" font-size="9.5" fill="#231f20" stroke="#231f20" stroke-width="0.32" textLength="13.5" lengthAdjust="spacingAndGlyphs">γ/β</text>
<line x1="38.40" y1="337.00" x2="38.40" y2="449.80" stroke="#231f20" stroke-width="1.1" />
<line x1="37.90" y1="449.50" x2="181.30" y2="449.50" stroke="#231f20" stroke-width="1.1" />
<line x1="36.00" y1="449.30" x2="38.40" y2="449.30" stroke="#231f20" stroke-width="1" />
<text x="33.00" y="452.70" font-size="9.6" fill="#231f20" stroke="#231f20" stroke-width="0.32" text-anchor="end" textLength="4.6" lengthAdjust="spacingAndGlyphs">0</text>
<line x1="36.00" y1="436.88" x2="38.40" y2="436.88" stroke="#231f20" stroke-width="1" />
<text x="33.00" y="440.28" font-size="9.6" fill="#231f20" stroke="#231f20" stroke-width="0.32" text-anchor="end" textLength="4.6" lengthAdjust="spacingAndGlyphs">2</text>
<line x1="36.00" y1="424.46" x2="38.40" y2="424.46" stroke="#231f20" stroke-width="1" />
<text x="33.00" y="427.86" font-size="9.6" fill="#231f20" stroke="#231f20" stroke-width="0.32" text-anchor="end" textLength="4.6" lengthAdjust="spacingAndGlyphs">4</text>
<line x1="36.00" y1="412.04" x2="38.40" y2="412.04" stroke="#231f20" stroke-width="1" />
<text x="33.00" y="415.44" font-size="9.6" fill="#231f20" stroke="#231f20" stroke-width="0.32" text-anchor="end" textLength="4.6" lengthAdjust="spacingAndGlyphs">6</text>
<line x1="36.00" y1="399.62" x2="38.40" y2="399.62" stroke="#231f20" stroke-width="1" />
<text x="33.00" y="403.02" font-size="9.6" fill="#231f20" stroke="#231f20" stroke-width="0.32" text-anchor="end" textLength="4.6" lengthAdjust="spacingAndGlyphs">8</text>
<line x1="36.00" y1="387.20" x2="38.40" y2="387.20" stroke="#231f20" stroke-width="1" />
<text x="33.00" y="390.60" font-size="9.6" fill="#231f20" stroke="#231f20" stroke-width="0.32" text-anchor="end" textLength="9" lengthAdjust="spacingAndGlyphs">10</text>
<line x1="36.00" y1="374.78" x2="38.40" y2="374.78" stroke="#231f20" stroke-width="1" />
<text x="33.00" y="378.18" font-size="9.6" fill="#231f20" stroke="#231f20" stroke-width="0.32" text-anchor="end" textLength="9" lengthAdjust="spacingAndGlyphs">12</text>
<line x1="36.00" y1="362.36" x2="38.40" y2="362.36" stroke="#231f20" stroke-width="1" />
<text x="33.00" y="365.76" font-size="9.6" fill="#231f20" stroke="#231f20" stroke-width="0.32" text-anchor="end" textLength="9" lengthAdjust="spacingAndGlyphs">14</text>
<line x1="36.00" y1="349.94" x2="38.40" y2="349.94" stroke="#231f20" stroke-width="1" />
<text x="33.00" y="353.34" font-size="9.6" fill="#231f20" stroke="#231f20" stroke-width="0.32" text-anchor="end" textLength="9" lengthAdjust="spacingAndGlyphs">16</text>
<line x1="36.00" y1="337.52" x2="38.40" y2="337.52" stroke="#231f20" stroke-width="1" />
<text x="33.00" y="340.92" font-size="9.6" fill="#231f20" stroke="#231f20" stroke-width="0.32" text-anchor="end" textLength="9" lengthAdjust="spacingAndGlyphs">18</text>
<text x="16.10" y="392.25" font-size="10.8" fill="#231f20" stroke="#231f20" stroke-width="0.32" text-anchor="middle" textLength="111.5" lengthAdjust="spacingAndGlyphs" transform="rotate(-90 16.10 392.25)">fold increase to untreated</text>
<rect x="43.25" y="426.32" width="8.30" height="22.98" fill="#c02035"/>
<rect x="54.05" y="425.27" width="8.80" height="24.03" fill="#0e5380"/>
<rect x="71.70" y="446.57" width="8.30" height="2.73" fill="#c02035"/>
<rect x="82.50" y="446.69" width="8.80" height="2.61" fill="#0e5380"/>
<rect x="100.00" y="440.54" width="8.30" height="8.76" fill="#c02035"/>
<rect x="110.80" y="439.55" width="8.80" height="9.75" fill="#0e5380"/>
<rect x="128.60" y="430.92" width="8.30" height="18.38" fill="#c02035"/>
<rect x="139.40" y="423.84" width="8.80" height="25.46" fill="#0e5380"/>
<rect x="157.00" y="378.13" width="8.30" height="71.17" fill="#c02035"/>
<rect x="167.80" y="348.88" width="8.80" height="100.42" fill="#0e5380"/>
<text x="57.80" y="458.40" font-size="10" fill="#231f20" stroke="#231f20" stroke-width="0.16" text-anchor="end" textLength="39.25" lengthAdjust="spacing" transform="rotate(-45 57.80 458.40) translate(57.80 458.40) scale(0.7133422078783703 1) translate(-57.80 -458.40)">BCL11A</text>
<text x="87.10" y="458.00" font-size="10" fill="#231f20" stroke="#231f20" stroke-width="0.16" text-anchor="end" textLength="45.42" lengthAdjust="spacing" transform="rotate(-45 87.10 458.00) translate(87.10 458.00) scale(0.72 1) translate(-87.10 -458.00)">HBG-197</text>
<text x="115.20" y="456.30" font-size="10" fill="#231f20" stroke="#231f20" stroke-width="0.16" text-anchor="end" textLength="47.78" lengthAdjust="spacing" transform="rotate(-45 115.20 456.30) translate(115.20 456.30) scale(0.72 1) translate(-115.20 -456.30)">HBG-115</text>
<text x="144.00" y="457.70" font-size="10" fill="#231f20" stroke="#231f20" stroke-width="0.16" text-anchor="end" textLength="90.83" lengthAdjust="spacing" transform="rotate(-45 144.00 457.70) translate(144.00 457.70) scale(0.72 1) translate(-144.00 -457.70)">BCL11A+HBG-197</text>
<text x="172.30" y="456.30" font-size="10" fill="#231f20" stroke="#231f20" stroke-width="0.16" text-anchor="end" textLength="91.39" lengthAdjust="spacing" transform="rotate(-45 172.30 456.30) translate(172.30 456.30) scale(0.72 1) translate(-172.30 -456.30)">BCL11A+HBG-115</text>
<text x="194.00" y="321.90" font-size="12" fill="#000" stroke="#000" stroke-width="0.35" font-weight="bold" textLength="8.4" lengthAdjust="spacingAndGlyphs">E</text>
<line x1="230.40" y1="337.20" x2="230.40" y2="457.50" stroke="#231f20" stroke-width="1.1" />
<line x1="229.90" y1="457.00" x2="336.90" y2="457.00" stroke="#231f20" stroke-width="1.1" />
<line x1="227.20" y1="457.00" x2="230.40" y2="457.00" stroke="#231f20" stroke-width="1" />
<text x="225.40" y="460.50" font-size="10" fill="#231f20" stroke="#231f20" stroke-width="0.32" text-anchor="end" textLength="4.8" lengthAdjust="spacingAndGlyphs">0</text>
<line x1="227.20" y1="433.14" x2="230.40" y2="433.14" stroke="#231f20" stroke-width="1" />
<text x="225.40" y="436.64" font-size="10" fill="#231f20" stroke="#231f20" stroke-width="0.32" text-anchor="end" textLength="9.3" lengthAdjust="spacingAndGlyphs">20</text>
<line x1="227.20" y1="409.28" x2="230.40" y2="409.28" stroke="#231f20" stroke-width="1" />
<text x="225.40" y="412.78" font-size="10" fill="#231f20" stroke="#231f20" stroke-width="0.32" text-anchor="end" textLength="9.3" lengthAdjust="spacingAndGlyphs">40</text>
<line x1="227.20" y1="385.42" x2="230.40" y2="385.42" stroke="#231f20" stroke-width="1" />
<text x="225.40" y="388.92" font-size="10" fill="#231f20" stroke="#231f20" stroke-width="0.32" text-anchor="end" textLength="9.3" lengthAdjust="spacingAndGlyphs">60</text>
<line x1="227.20" y1="361.56" x2="230.40" y2="361.56" stroke="#231f20" stroke-width="1" />
<text x="225.40" y="365.06" font-size="10" fill="#231f20" stroke="#231f20" stroke-width="0.32" text-anchor="end" textLength="9.3" lengthAdjust="spacingAndGlyphs">80</text>
<line x1="227.20" y1="337.70" x2="230.40" y2="337.70" stroke="#231f20" stroke-width="1" />
<text x="225.40" y="341.20" font-size="10" fill="#231f20" stroke="#231f20" stroke-width="0.32" text-anchor="end" textLength="13.8" lengthAdjust="spacingAndGlyphs">100</text>
<text x="207.60" y="394.00" font-size="10.5" fill="#231f20" stroke="#231f20" stroke-width="0.32" text-anchor="middle" textLength="34" lengthAdjust="spacingAndGlyphs" transform="rotate(-90 207.60 394.00)">Indels%</text>
<text x="237.10" y="331.90" font-size="8.2" fill="#231f20" stroke="#231f20" stroke-width="0.3" textLength="20.6" lengthAdjust="spacingAndGlyphs">15.1%</text>
<text x="272.30" y="331.70" font-size="8.2" fill="#231f20" stroke="#231f20" stroke-width="0.3" textLength="20.6" lengthAdjust="spacingAndGlyphs">68.2%</text>
<text x="306.30" y="331.70" font-size="8.2" fill="#231f20" stroke="#231f20" stroke-width="0.3" textLength="20.6" lengthAdjust="spacingAndGlyphs">43.3%</text>
<text x="280.00" y="320.20" font-size="8.2" fill="#231f20" stroke="#231f20" stroke-width="0.3" textLength="31.5" lengthAdjust="spacingAndGlyphs">p=0.0004</text>
<line x1="334.20" y1="317.30" x2="334.20" y2="333.00" stroke="#111" stroke-width="1.1" />
<polygon points="331.60,331.80 334.20,336.30 336.80,331.80" fill="#111"/>
<rect x="240.90" y="371.34" width="17.60" height="85.66" fill="#c6d6e3" stroke="#4f84b3" stroke-width="1.1"/>
<rect x="274.70" y="397.35" width="18.00" height="59.65" fill="#fce3c8" stroke="#f7a54f" stroke-width="1.1"/>
<rect x="308.80" y="376.71" width="17.50" height="80.29" fill="#d0ebd3" stroke="#5fc26f" stroke-width="1.1"/>
<line x1="249.70" y1="354.00" x2="249.70" y2="412.70" stroke="#3f78ad" stroke-width="1" />
<line x1="245.10" y1="354.00" x2="254.30" y2="354.00" stroke="#3f78ad" stroke-width="1" />
<line x1="245.10" y1="412.70" x2="254.30" y2="412.70" stroke="#3f78ad" stroke-width="1" />
<line x1="245.00" y1="364.20" x2="254.50" y2="364.20" stroke="#3f78ad" stroke-width="1" />
<line x1="241.50" y1="383.50" x2="258.00" y2="383.50" stroke="#333" stroke-width="1.2" />
<circle cx="250.00" cy="340.20" r="1.75" fill="#c8102e"/>
<circle cx="249.60" cy="348.80" r="1.75" fill="#c8102e"/>
<circle cx="246.70" cy="355.00" r="1.75" fill="#c8102e"/>
<circle cx="252.50" cy="356.00" r="1.75" fill="#c8102e"/>
<circle cx="250.00" cy="380.60" r="1.75" fill="#c8102e"/>
<circle cx="243.80" cy="395.40" r="1.75" fill="#c8102e"/>
<circle cx="255.40" cy="394.40" r="1.75" fill="#c8102e"/>
<circle cx="249.60" cy="398.70" r="1.75" fill="#c8102e"/>
<circle cx="249.60" cy="404.80" r="1.75" fill="#c8102e"/>
<circle cx="249.60" cy="413.50" r="1.75" fill="#c8102e"/>
<circle cx="249.60" cy="429.80" r="1.75" fill="#c8102e"/>
<line x1="283.70" y1="383.50" x2="283.70" y2="442.00" stroke="#f7a54f" stroke-width="1" />
<line x1="279.40" y1="383.50" x2="288.00" y2="383.50" stroke="#f7a54f" stroke-width="1" />
<line x1="281.00" y1="430.00" x2="287.00" y2="430.00" stroke="#f7a54f" stroke-width="1" />
<line x1="275.30" y1="436.70" x2="292.30" y2="436.70" stroke="#555" stroke-width="1.2" />
<rect x="282.05" y="422.95" width="3.30" height="3.30" fill="#c8102e"/>
<rect x="278.75" y="429.35" width="3.30" height="3.30" fill="#c8102e"/>
<rect x="284.85" y="433.15" width="3.30" height="3.30" fill="#c8102e"/>
<rect x="275.25" y="439.35" width="3.30" height="3.30" fill="#c8102e"/>
<rect x="279.65" y="442.75" width="3.30" height="3.30" fill="#c8102e"/>
<rect x="283.95" y="441.65" width="3.30" height="3.30" fill="#c8102e"/>
<rect x="288.35" y="438.75" width="3.30" height="3.30" fill="#c8102e"/>
<line x1="317.30" y1="349.80" x2="317.30" y2="433.30" stroke="#5fc26f" stroke-width="1" />
<line x1="312.70" y1="349.80" x2="322.10" y2="349.80" stroke="#5fc26f" stroke-width="1" />
<line x1="312.70" y1="387.50" x2="322.10" y2="387.50" stroke="#5fc26f" stroke-width="1" />
<line x1="312.70" y1="433.30" x2="322.10" y2="433.30" stroke="#5fc26f" stroke-width="1" />
<line x1="309.50" y1="410.20" x2="326.00" y2="410.20" stroke="#333" stroke-width="1.2" />
<polygon points="318.50,380.83 322.30,380.83 320.40,377.30" fill="#c8102e"/>
<polygon points="312.70,385.63 316.50,385.63 314.60,382.10" fill="#c8102e"/>
<polygon points="315.40,403.73 319.20,403.73 317.30,400.20" fill="#c8102e"/>
<polygon points="318.50,421.03 322.30,421.03 320.40,417.50" fill="#c8102e"/>
<polygon points="312.70,424.93 316.50,424.93 314.60,421.40" fill="#c8102e"/>
<polygon points="315.40,432.43 319.20,432.43 317.30,428.90" fill="#c8102e"/>
<polygon points="315.40,437.83 319.20,437.83 317.30,434.30" fill="#c8102e"/>
<line x1="249.70" y1="457.00" x2="249.70" y2="461.00" stroke="#231f20" stroke-width="1" />
<line x1="283.50" y1="457.00" x2="283.50" y2="461.00" stroke="#231f20" stroke-width="1" />
<line x1="317.30" y1="457.00" x2="317.30" y2="461.00" stroke="#231f20" stroke-width="1" />
<text x="254.30" y="470.00" font-size="10" fill="#231f20" stroke="#231f20" stroke-width="0.16" text-anchor="end" textLength="39.25" lengthAdjust="spacing" transform="rotate(-45 254.30 470.00) translate(254.30 470.00) scale(0.6751274467420291 1) translate(-254.30 -470.00)">BCL11A</text>
<text x="290.30" y="468.80" font-size="10" fill="#231f20" stroke="#231f20" stroke-width="0.16" text-anchor="end" textLength="45.00" lengthAdjust="spacing" transform="rotate(-45 290.30 468.80) translate(290.30 468.80) scale(0.72 1) translate(-290.30 -468.80)">HBG-197</text>
<text x="326.30" y="469.60" font-size="10" fill="#231f20" stroke="#231f20" stroke-width="0.16" text-anchor="end" textLength="45.69" lengthAdjust="spacing" transform="rotate(-45 326.30 469.60) translate(326.30 469.60) scale(0.72 1) translate(-326.30 -469.60)">HBG-115</text>
<text x="8.20" y="515.00" font-size="12" fill="#000" stroke="#000" stroke-width="0.35" font-weight="bold" textLength="8.1" lengthAdjust="spacingAndGlyphs">F</text>
<text x="46.50" y="521.50" font-size="7.5" fill="#231f20" stroke="#231f20" stroke-width="0.24" textLength="61.3" lengthAdjust="spacingAndGlyphs">BCL11A+HBG-197</text>
<line x1="40.70" y1="531.00" x2="40.70" y2="644.30" stroke="#231f20" stroke-width="1.2" />
<line x1="40.20" y1="643.75" x2="116.00" y2="643.75" stroke="#231f20" stroke-width="1.2" />
<line x1="37.30" y1="643.65" x2="40.70" y2="643.65" stroke="#231f20" stroke-width="1" />
<text x="35.60" y="646.95" font-size="9" fill="#231f20" stroke="#231f20" stroke-width="0.26" text-anchor="end">0</text>
<line x1="37.30" y1="621.17" x2="40.70" y2="621.17" stroke="#231f20" stroke-width="1" />
<text x="35.60" y="624.47" font-size="9" fill="#231f20" stroke="#231f20" stroke-width="0.26" text-anchor="end" textLength="10" lengthAdjust="spacingAndGlyphs">20</text>
<line x1="37.30" y1="598.69" x2="40.70" y2="598.69" stroke="#231f20" stroke-width="1" />
<text x="35.60" y="601.99" font-size="9" fill="#231f20" stroke="#231f20" stroke-width="0.26" text-anchor="end" textLength="10" lengthAdjust="spacingAndGlyphs">40</text>
<line x1="37.30" y1="576.21" x2="40.70" y2="576.21" stroke="#231f20" stroke-width="1" />
<text x="35.60" y="579.51" font-size="9" fill="#231f20" stroke="#231f20" stroke-width="0.26" text-anchor="end" textLength="10" lengthAdjust="spacingAndGlyphs">60</text>
<line x1="37.30" y1="553.73" x2="40.70" y2="553.73" stroke="#231f20" stroke-width="1" />
<text x="35.60" y="557.03" font-size="9" fill="#231f20" stroke="#231f20" stroke-width="0.26" text-anchor="end" textLength="10" lengthAdjust="spacingAndGlyphs">80</text>
<line x1="37.30" y1="531.25" x2="40.70" y2="531.25" stroke="#231f20" stroke-width="1" />
<text x="35.60" y="534.55" font-size="9" fill="#231f20" stroke="#231f20" stroke-width="0.26" text-anchor="end" textLength="12.5" lengthAdjust="spacingAndGlyphs">100</text>
<text x="17.10" y="584.30" font-size="10" fill="#231f20" stroke="#231f20" stroke-width="0.32" text-anchor="middle" textLength="51.4" lengthAdjust="spacingAndGlyphs" transform="rotate(-90 17.10 584.30)">% of colnies</text>
<rect x="52.20" y="622.52" width="14.70" height="21.13" fill="#c02035"/>
<rect x="52.20" y="601.72" width="14.70" height="20.79" fill="#0e5380"/>
<rect x="52.20" y="580.03" width="14.70" height="21.69" fill="#3aaf4e"/>
<rect x="52.20" y="531.25" width="14.70" height="48.78" fill="#bebdc2"/>
<rect x="88.90" y="611.39" width="14.70" height="32.26" fill="#c02035"/>
<rect x="88.90" y="536.98" width="14.70" height="74.41" fill="#0e5380"/>
<rect x="88.90" y="531.25" width="14.70" height="5.73" fill="#3aaf4e"/>
<rect x="88.90" y="531.25" width="14.70" height="0.00" fill="#bebdc2"/>
<text x="46.00" y="652.30" font-size="7.6" fill="#231f20" stroke="#231f20" stroke-width="0.2" textLength="22.5" lengthAdjust="spacingAndGlyphs">In vitro</text>
<text x="85.90" y="652.30" font-size="7.6" fill="#231f20" stroke="#231f20" stroke-width="0.2" textLength="21.4" lengthAdjust="spacingAndGlyphs">In vivo</text>
<rect x="42.50" y="660.75" width="5.80" height="6.00" fill="#bebdc2"/>
<text x="53.75" y="666.35" font-size="7.6" fill="#231f20" stroke="#231f20" stroke-width="0.2" textLength="60.75" lengthAdjust="spacingAndGlyphs">BCL11A+HBG-KO</text>
<rect x="42.50" y="669.05" width="5.80" height="6.00" fill="#3aaf4e"/>
<text x="53.75" y="674.65" font-size="7.6" fill="#231f20" stroke="#231f20" stroke-width="0.2" textLength="43.75" lengthAdjust="spacingAndGlyphs">HBG only KO</text>
<rect x="42.50" y="677.35" width="5.80" height="6.00" fill="#0e5380"/>
<text x="53.75" y="682.95" font-size="7.6" fill="#231f20" stroke="#231f20" stroke-width="0.2" textLength="55.5" lengthAdjust="spacingAndGlyphs">BCL11A only KO</text>
<rect x="42.50" y="685.65" width="5.80" height="6.00" fill="#c02035"/>
<text x="53.75" y="691.25" font-size="7.6" fill="#231f20" stroke="#231f20" stroke-width="0.2" textLength="34.25" lengthAdjust="spacingAndGlyphs">not edited</text>
<text x="166.50" y="521.50" font-size="7.5" fill="#231f20" stroke="#231f20" stroke-width="0.24" textLength="61.3" lengthAdjust="spacingAndGlyphs">BCL11A+HBG-115</text>
<line x1="160.70" y1="531.00" x2="160.70" y2="644.30" stroke="#231f20" stroke-width="1.2" />
<line x1="160.20" y1="643.75" x2="236.00" y2="643.75" stroke="#231f20" stroke-width="1.2" />
<line x1="157.30" y1="643.65" x2="160.70" y2="643.65" stroke="#231f20" stroke-width="1" />
<text x="155.60" y="646.95" font-size="9" fill="#231f20" stroke="#231f20" stroke-width="0.26" text-anchor="end">0</text>
<line x1="157.30" y1="621.17" x2="160.70" y2="621.17" stroke="#231f20" stroke-width="1" />
<text x="155.60" y="624.47" font-size="9" fill="#231f20" stroke="#231f20" stroke-width="0.26" text-anchor="end" textLength="10" lengthAdjust="spacingAndGlyphs">20</text>
<line x1="157.30" y1="598.69" x2="160.70" y2="598.69" stroke="#231f20" stroke-width="1" />
<text x="155.60" y="601.99" font-size="9" fill="#231f20" stroke="#231f20" stroke-width="0.26" text-anchor="end" textLength="10" lengthAdjust="spacingAndGlyphs">40</text>
<line x1="157.30" y1="576.21" x2="160.70" y2="576.21" stroke="#231f20" stroke-width="1" />
<text x="155.60" y="579.51" font-size="9" fill="#231f20" stroke="#231f20" stroke-width="0.26" text-anchor="end" textLength="10" lengthAdjust="spacingAndGlyphs">60</text>
<line x1="157.30" y1="553.73" x2="160.70" y2="553.73" stroke="#231f20" stroke-width="1" />
<text x="155.60" y="557.03" font-size="9" fill="#231f20" stroke="#231f20" stroke-width="0.26" text-anchor="end" textLength="10" lengthAdjust="spacingAndGlyphs">80</text>
<line x1="157.30" y1="531.25" x2="160.70" y2="531.25" stroke="#231f20" stroke-width="1" />
<text x="155.60" y="534.55" font-size="9" fill="#231f20" stroke="#231f20" stroke-width="0.26" text-anchor="end" textLength="12.5" lengthAdjust="spacingAndGlyphs">100</text>
<text x="137.10" y="584.30" font-size="10" fill="#231f20" stroke="#231f20" stroke-width="0.32" text-anchor="middle" textLength="51.4" lengthAdjust="spacingAndGlyphs" transform="rotate(-90 137.10 584.30)">% of colnies</text>
<rect x="174.00" y="634.21" width="14.70" height="9.44" fill="#c02035"/>
<rect x="174.00" y="624.99" width="14.70" height="9.22" fill="#0e5380"/>
<rect x="174.00" y="615.77" width="14.70" height="9.22" fill="#3aaf4e"/>
<rect x="174.00" y="531.25" width="14.70" height="84.52" fill="#bebdc2"/>
<rect x="210.70" y="632.86" width="14.70" height="10.79" fill="#c02035"/>
<rect x="210.70" y="628.14" width="14.70" height="4.72" fill="#0e5380"/>
<rect x="210.70" y="611.95" width="14.70" height="16.19" fill="#3aaf4e"/>
<rect x="210.70" y="531.25" width="14.70" height="80.70" fill="#bebdc2"/>
<text x="166.00" y="652.30" font-size="7.6" fill="#231f20" stroke="#231f20" stroke-width="0.2" textLength="22.5" lengthAdjust="spacingAndGlyphs">In vitro</text>
<text x="205.90" y="652.30" font-size="7.6" fill="#231f20" stroke="#231f20" stroke-width="0.2" textLength="21.4" lengthAdjust="spacingAndGlyphs">In vivo</text>
<rect x="162.50" y="660.75" width="5.80" height="6.00" fill="#bebdc2"/>
<text x="173.75" y="666.35" font-size="7.6" fill="#231f20" stroke="#231f20" stroke-width="0.2" textLength="60.75" lengthAdjust="spacingAndGlyphs">BCL11A+HBG-KO</text>
<rect x="162.50" y="669.05" width="5.80" height="6.00" fill="#3aaf4e"/>
<text x="173.75" y="674.65" font-size="7.6" fill="#231f20" stroke="#231f20" stroke-width="0.2" textLength="43.75" lengthAdjust="spacingAndGlyphs">HBG only KO</text>
<rect x="162.50" y="677.35" width="5.80" height="6.00" fill="#0e5380"/>
<text x="173.75" y="682.95" font-size="7.6" fill="#231f20" stroke="#231f20" stroke-width="0.2" textLength="55.5" lengthAdjust="spacingAndGlyphs">BCL11A only KO</text>
<rect x="162.50" y="685.65" width="5.80" height="6.00" fill="#c02035"/>
<text x="173.75" y="691.25" font-size="7.6" fill="#231f20" stroke="#231f20" stroke-width="0.2" textLength="34.25" lengthAdjust="spacingAndGlyphs">not edited</text>
<rect x="0.5" y="0.5" width="519" height="697.8" fill="none" stroke="#000" stroke-width="1.2"/>
</svg></div></body></html>
